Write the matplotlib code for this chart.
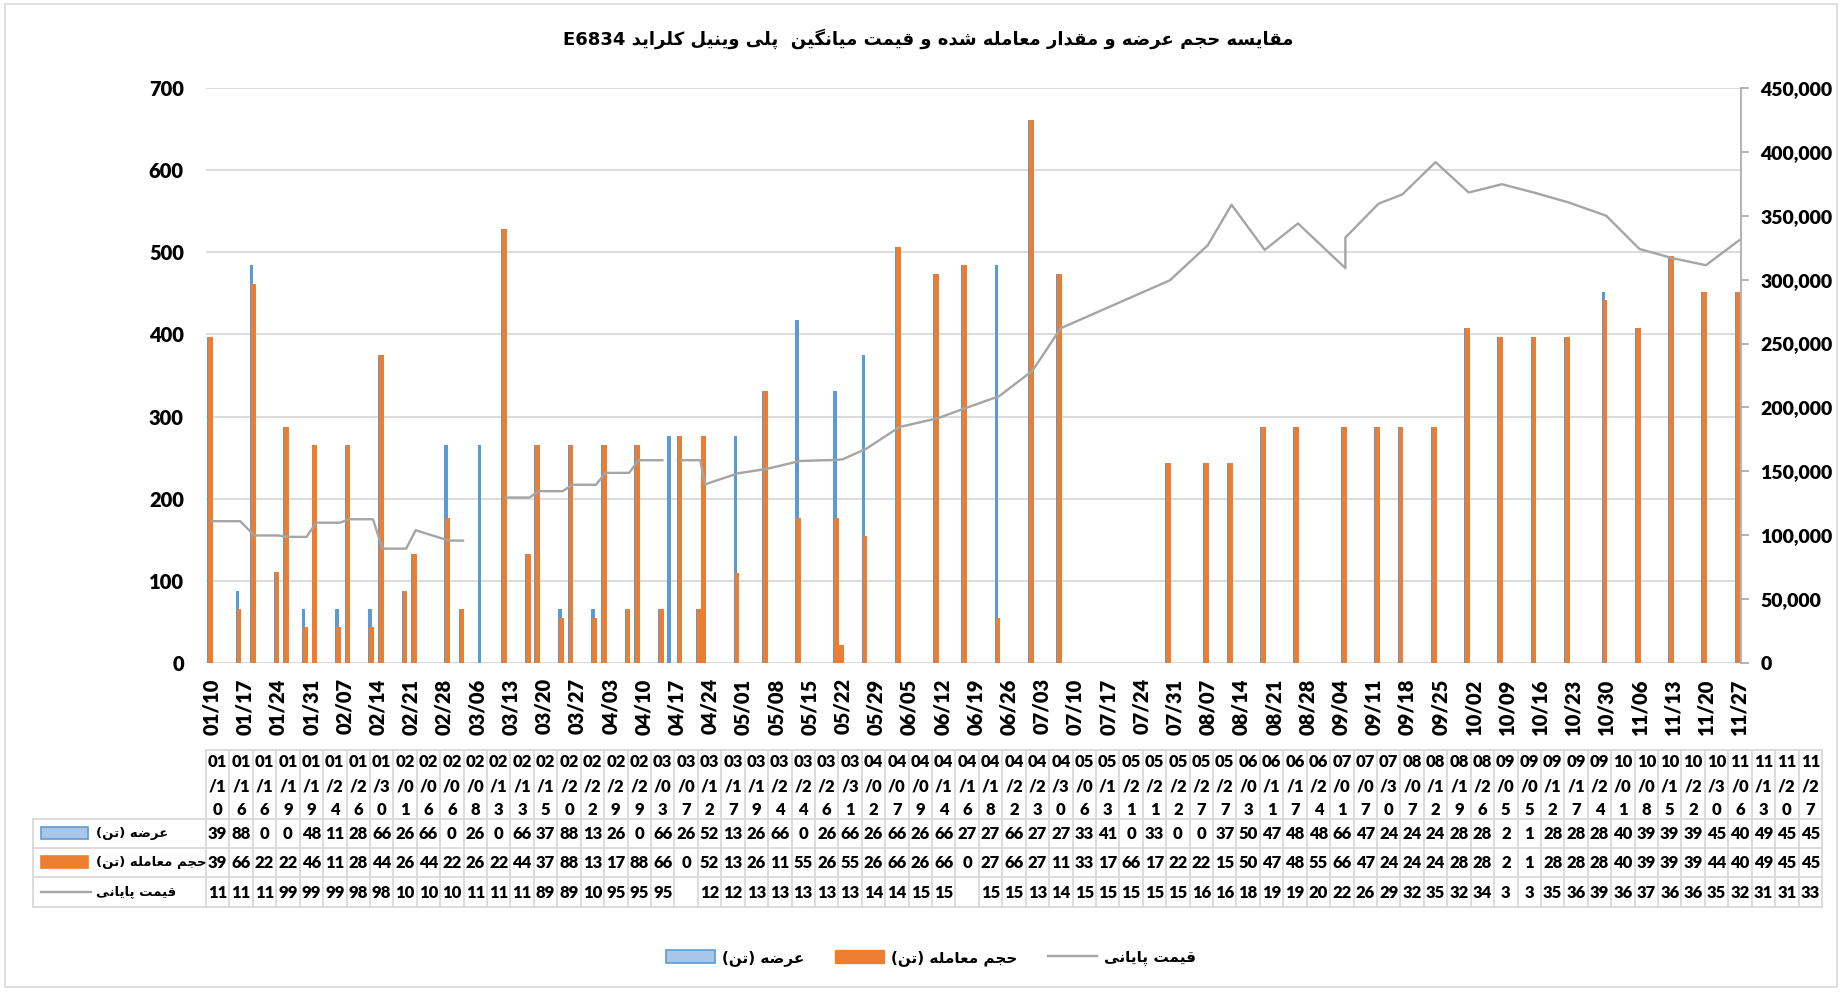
import re
import numpy as np
import matplotlib
matplotlib.use("Agg")
import matplotlib.pyplot as plt
import matplotlib.dates as mdates
from matplotlib.patches import Patch, Rectangle
from matplotlib.lines import Line2D
from matplotlib.ticker import FuncFormatter, MultipleLocator
from matplotlib.font_manager import FontProperties

# ---------------- data ----------------
YEAR = 2024
dates_md = ["01-10", "01-16", "01-16", "01-19", "01-19", "01-24", "01-26", "01-30", "02-01", "02-06",
            "02-06", "02-08", "02-13", "02-13", "02-15", "02-20", "02-22", "02-29", "02-29", "03-03",
            "03-07", "03-12", "03-17", "03-19", "03-24", "03-24", "03-26", "03-31", "04-02", "04-07",
            "04-09", "04-14", "04-16", "04-18", "04-22", "04-23", "04-30", "05-06", "05-13", "05-21",
            "05-21", "05-22", "05-27", "05-27", "06-03", "06-11", "06-17", "06-24", "07-01", "07-07",
            "07-30", "08-07", "08-12", "08-19", "08-26", "09-05", "09-05", "09-12", "09-17", "09-24",
            "10-01", "10-08", "10-15", "10-22", "10-30", "11-06", "11-13", "11-20", "11-27"]

supply = [397, 88, 0, 0, 484, 111, 287, 66, 265, 66,
          0, 265, 0, 66, 375, 88, 133, 265, 0, 66,
          265, 528, 133, 265, 66, 0, 265, 66, 265, 66,
          265, 66, 276, 276, 66, 276, 276, 331, 418, 0,
          331, 0, 0, 375, 507, 474, 485, 485, 661, 474,
          243, 243, 243, 287, 287, 287, 143, 287, 287, 287,
          408, 397, 397, 397, 452, 408, 496, 452, 452]

traded = [397, 66, 22, 22, 462, 111, 287, 44, 265, 44,
          22, 265, 22, 44, 375, 88, 133, 176, 88, 66,
          0, 528, 133, 265, 11, 55, 265, 55, 265, 66,
          265, 66, 0, 276, 66, 276, 110, 331, 177, 66,
          177, 22, 22, 155, 507, 474, 485, 55, 661, 474,
          243, 243, 243, 287, 287, 287, 143, 287, 287, 287,
          408, 397, 397, 397, 442, 408, 496, 452, 452]

price = [111000, 111000, 111000, 99800, 99800, 99800, 98700, 98700, 109800, 109800,
         109800, 112500, 112500, 112500, 89500, 89500, 103900, 95800, 95800, 95800,
         np.nan, 129500, 129500, 134500, 134500, 134500, 139500, 139500, 148800, 148800,
         158700, 158700, np.nan, 158700, 158700, 139800, 148500, 151900, 158100, 159000,
         159000, 159400, 167700, 167700, 184700, 191500, 199600, 208800, 228600, 262000,
         299500, 327000, 358600, 323300, 344000, 309000, 333000, 359500, 366700, 392000,
         368200, 374700, 367900, 360500, 350000, 324000, 316800, 311300, 330800]

# cells whose printed text in the data table differs from the truncated value
table_text_override = {(0, 55): "2", (0, 56): "1", (1, 55): "2", (1, 56): "1",
                       (2, 55): "3", (2, 56): "3"}

title_text = "مقایسه حجم عرضه و مقدار معامله شده و قیمت میانگین  پلی وینیل کلراید E6834"
label_supply = "عرضه (تن)"
label_traded = "حجم معامله (تن)"
label_price = "قیمت پایانی"

# ---------------- Persian shaping helpers ----------------
AR = {
    '\u0627': ('\uFE8D', '\uFE8E', None, None),
    '\u0622': ('\uFE81', '\uFE82', None, None),
    '\u0628': ('\uFE8F', '\uFE90', '\uFE91', '\uFE92'),
    '\u067E': ('\uFB56', '\uFB57', '\uFB58', '\uFB59'),
    '\u062A': ('\uFE95', '\uFE96', '\uFE97', '\uFE98'),
    '\u062B': ('\uFE99', '\uFE9A', '\uFE9B', '\uFE9C'),
    '\u062C': ('\uFE9D', '\uFE9E', '\uFE9F', '\uFEA0'),
    '\u0686': ('\uFB7A', '\uFB7B', '\uFB7C', '\uFB7D'),
    '\u062D': ('\uFEA1', '\uFEA2', '\uFEA3', '\uFEA4'),
    '\u062E': ('\uFEA5', '\uFEA6', '\uFEA7', '\uFEA8'),
    '\u062F': ('\uFEA9', '\uFEAA', None, None),
    '\u0630': ('\uFEAB', '\uFEAC', None, None),
    '\u0631': ('\uFEAD', '\uFEAE', None, None),
    '\u0632': ('\uFEAF', '\uFEB0', None, None),
    '\u0698': ('\uFB8A', '\uFB8B', None, None),
    '\u0633': ('\uFEB1', '\uFEB2', '\uFEB3', '\uFEB4'),
    '\u0634': ('\uFEB5', '\uFEB6', '\uFEB7', '\uFEB8'),
    '\u0635': ('\uFEB9', '\uFEBA', '\uFEBB', '\uFEBC'),
    '\u0636': ('\uFEBD', '\uFEBE', '\uFEBF', '\uFEC0'),
    '\u0637': ('\uFEC1', '\uFEC2', '\uFEC3', '\uFEC4'),
    '\u0638': ('\uFEC5', '\uFEC6', '\uFEC7', '\uFEC8'),
    '\u0639': ('\uFEC9', '\uFECA', '\uFECB', '\uFECC'),
    '\u063A': ('\uFECD', '\uFECE', '\uFECF', '\uFED0'),
    '\u0641': ('\uFED1', '\uFED2', '\uFED3', '\uFED4'),
    '\u0642': ('\uFED5', '\uFED6', '\uFED7', '\uFED8'),
    '\u06A9': ('\uFB8E', '\uFB8F', '\uFB90', '\uFB91'),
    '\u06AF': ('\uFB92', '\uFB93', '\uFB94', '\uFB95'),
    '\u0644': ('\uFEDD', '\uFEDE', '\uFEDF', '\uFEE0'),
    '\u0645': ('\uFEE1', '\uFEE2', '\uFEE3', '\uFEE4'),
    '\u0646': ('\uFEE5', '\uFEE6', '\uFEE7', '\uFEE8'),
    '\u0647': ('\uFEE9', '\uFEEA', '\uFEEB', '\uFEEC'),
    '\u0648': ('\uFEED', '\uFEEE', None, None),
    '\u06CC': ('\uFBFC', '\uFBFD', '\uFBFE', '\uFBFF'),
    '\u064A': ('\uFEF1', '\uFEF2', '\uFEF3', '\uFEF4'),
}


def shape(s):
    out = []
    for i, c in enumerate(s):
        if c not in AR:
            out.append(c)
            continue
        f = AR[c]
        prev = s[i - 1] if i > 0 else ''
        nxt = s[i + 1] if i < len(s) - 1 else ''
        jp = prev in AR and AR[prev][2] is not None
        jn = f[2] is not None and nxt in AR
        if jp and jn:
            out.append(f[3])
        elif jp:
            out.append(f[1])
        elif jn:
            out.append(f[2])
        else:
            out.append(f[0])
    return ''.join(out)


def rtl(s):
    toks = re.findall(r'[A-Za-z0-9]+|[^A-Za-z0-9]', shape(s))
    mirror = {'(': ')', ')': '('}
    return ''.join(mirror.get(t, t) for t in toks[::-1])


# ---------------- style ----------------
BLUE = "#5B9BD5"
BLUE_LIGHT = "#A9C6E8"
ORANGE = "#ED7D31"
GRAY = "#A5A5A5"
GRID = "#D9D9D9"
NUMFONT = "Lato"
FAFONT = "DejaVu Sans"

W, H = 1843, 992
fig = plt.figure(figsize=(W / 100, H / 100), dpi=100)
fig.patch.set_facecolor("white")


def fx(px):
    return px / W


def fy(py):
    return 1 - py / H


dates = np.array([np.datetime64(f"{YEAR}-{d}") for d in dates_md])
x = mdates.date2num(dates)
tick_dates = np.arange(dates[0], dates[-1] + np.timedelta64(1, "D"), np.timedelta64(7, "D"))

L, R, T, B = 206, 1741, 88, 663
ax = fig.add_axes([fx(L), fy(B), fx(R) - fx(L), fy(T) - fy(B)])
ax.bar(x - 0.6, supply, width=0.7, color=BLUE, linewidth=0, zorder=2)
ax.bar(x - 0.25, traded, width=1.0, color=ORANGE, linewidth=0, zorder=3)
ax.set_ylim(0, 700)
ax.yaxis.set_major_locator(MultipleLocator(100))
ax.grid(axis="y", color=GRID, lw=1.3)
ax.set_axisbelow(True)
for s in ax.spines.values():
    s.set_visible(False)
ax.set_xlim(x[0] - 1.2, x[-1] + 0.4)
ax.set_xticks(mdates.date2num(tick_dates))
ax.xaxis.set_major_formatter(mdates.DateFormatter("%m/%d"))
ax.tick_params(axis="y", length=0, pad=16, labelsize=14.5)
ax.tick_params(axis="x", length=0, pad=11, labelsize=14.5, labelrotation=90)
for lab in ax.get_xticklabels() + ax.get_yticklabels():
    lab.set_fontfamily(NUMFONT)
    lab.set_fontweight("heavy")

ax2 = ax.twinx()
ax2.plot(x, price, color=GRAY, lw=1.7, zorder=5)
ax2.set_ylim(0, 450000)
ax2.yaxis.set_major_locator(MultipleLocator(50000))
ax2.yaxis.set_major_formatter(FuncFormatter(lambda v, p: f"{int(v):,}"))
for k, s in ax2.spines.items():
    s.set_visible(k == "right")
ax2.spines["right"].set_color("#A6A6A6")
ax2.spines["right"].set_linewidth(1.2)
ax2.tick_params(axis="y", length=6, color="#A6A6A6", width=1.2, pad=8, labelsize=14)
for lab in ax2.get_yticklabels():
    lab.set_fontfamily(NUMFONT)
    lab.set_fontweight("heavy")

# title
fig.text(fx(928), fy(39), rtl(title_text), ha="center", va="center",
         fontsize=13, fontweight="bold", family=FAFONT)

# ---------------- overlay: data table, border ----------------
tab = fig.add_axes([0, 0, 1, 1], zorder=-1)
tab.set_xlim(0, W)
tab.set_ylim(H, 0)
tab.axis("off")

tab.add_patch(Rectangle((5, 4), W - 11, H - 9, fill=False, edgecolor=GRID, lw=1.2))

n = len(dates_md)
t_left, t_key, t_right = 33, 206, 1822
cw = (t_right - t_key) / n
y_head, y_r1, y_r2, y_r3, y_bot = 750, 819, 847.5, 877, 907
lkw = dict(color=GRID, lw=1.3)
tab.plot([t_key, t_right], [y_head, y_head], **lkw)
for yy in (y_r1, y_r2, y_r3, y_bot):
    tab.plot([t_left, t_right], [yy, yy], **lkw)
for k in range(n + 1):
    xx = t_key + k * cw
    tab.plot([xx, xx], [y_head, y_bot], **lkw)
tab.plot([t_left, t_left], [y_r1, y_bot], **lkw)

cell_kw = dict(ha="center", va="center", fontsize=12, fontweight="heavy", family=NUMFONT)


def cell_text(v):
    if v is None or (isinstance(v, float) and np.isnan(v)):
        return ""
    return str(int(round(v)))[:2]


rows = [supply, traded, price]
row_y = [(y_r1 + y_r2) / 2, (y_r2 + y_r3) / 2, (y_r3 + y_bot) / 2]
for i, d in enumerate(dates):
    cx = t_key + (i + 0.5) * cw
    lab = mdates.num2date(x[i]).strftime("%m/%d")
    for j, part in enumerate([lab[0:2], lab[2:4], lab[4:]]):
        tab.text(cx, 762 + j * 24, part, **cell_kw)
    for r, series in enumerate(rows):
        txt = table_text_override.get((r, i), cell_text(series[i]))
        tab.text(cx, row_y[r] + 1, txt, **cell_kw)

# key column
key_fp = dict(fontsize=9.5, fontweight="bold", family=FAFONT, ha="left", va="center")
tab.add_patch(Rectangle((41, row_y[0] - 6), 47, 12, facecolor=BLUE_LIGHT, edgecolor=BLUE, lw=1.2))
tab.text(96, row_y[0], rtl(label_supply), **key_fp)
tab.add_patch(Rectangle((41, row_y[1] - 6), 47, 12, facecolor=ORANGE, edgecolor=ORANGE, lw=1.2))
tab.text(96, row_y[1], rtl(label_traded), **key_fp)
tab.plot([41, 91], [row_y[2], row_y[2]], color=GRAY, lw=1.7)
tab.text(96, row_y[2], rtl(label_price), **key_fp)

# legend
handles = [Patch(facecolor=BLUE_LIGHT, edgecolor=BLUE, lw=1.2),
           Patch(facecolor=ORANGE, edgecolor=ORANGE),
           Line2D([0], [0], color=GRAY, lw=1.7)]
labels = [rtl(label_supply), rtl(label_traded), rtl(label_price)]
fig.legend(handles, labels, loc="center", bbox_to_anchor=(fx(931), fy(958)), ncol=3,
           frameon=False, prop=FontProperties(family=FAFONT, weight="bold", size=11),
           handlelength=3.2, handleheight=0.9, handletextpad=0.45, columnspacing=2.0)

fig.savefig("out.png", dpi=100)
